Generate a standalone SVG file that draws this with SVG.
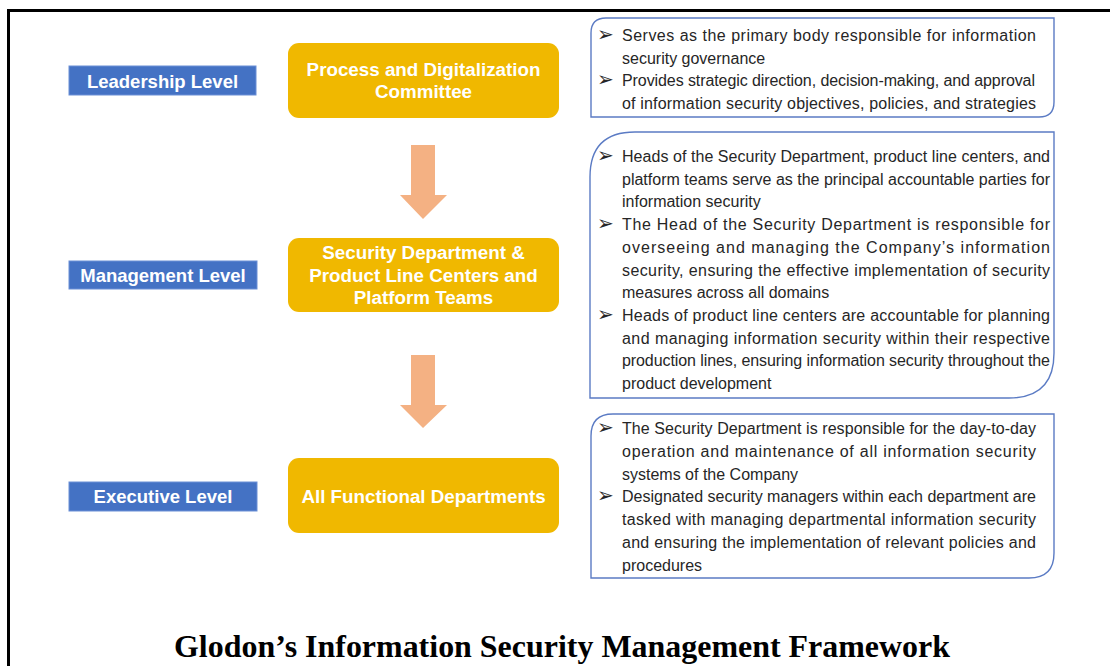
<svg xmlns="http://www.w3.org/2000/svg" width="1110" height="666" viewBox="0 0 1110 666">
<defs>
<style>
.lvl{fill:#4472C4;stroke:#6A8FD6;stroke-width:1}
.lvlt{font-family:"Liberation Sans",Arial,sans-serif;font-weight:bold;font-size:18.5px;fill:#fff;text-anchor:middle}
.org{fill:#F0B800}
.orgt{font-family:"Liberation Sans",Arial,sans-serif;font-weight:bold;font-size:18.8px;fill:#fff;text-anchor:middle}
.desc{fill:#fff;stroke:#5B7BC4;stroke-width:1.4}
.tx{font-family:"Liberation Sans",Arial,sans-serif;font-size:16px;fill:#262626}
.bul{font-family:"DejaVu Sans",sans-serif;font-size:20px;fill:#262626}
.arr{fill:#F4B183}
</style>
</defs>
<rect width="1110" height="666" fill="#fff"/>
<path d="M8.5 666 V10.5 H1110" fill="none" stroke="#000" stroke-width="3"/>

<g id="connectors">
<polygon class="arr" points="411,145 435,145 435,195 447,195 423,219 400,195 411,195"/>
<polygon class="arr" points="411,355 435,355 435,405 447,405 423,428 400,405 411,405"/>
</g>

<g id="leadership-level">
<rect class="lvl" x="69" y="66" width="187" height="29"/>
<text class="lvlt" x="162.5" y="88">Leadership Level</text>
</g>
<g id="management-level">
<rect class="lvl" x="69" y="261" width="188" height="28"/>
<text class="lvlt" x="163" y="282">Management Level</text>
</g>
<g id="executive-level">
<rect class="lvl" x="69" y="482" width="188" height="29"/>
<text class="lvlt" x="163" y="503">Executive Level</text>
</g>

<g id="committee">
<rect class="org" x="288" y="43" width="271" height="75" rx="11"/>
<text class="orgt" x="423.5" y="76">Process and Digitalization</text>
<text class="orgt" x="423.5" y="98">Committee</text>
</g>
<g id="security-dept">
<rect class="org" x="288" y="238" width="271" height="74" rx="11"/>
<text class="orgt" x="423.5" y="259">Security Department &amp;</text>
<text class="orgt" x="423.5" y="281.5">Product Line Centers and</text>
<text class="orgt" x="423.5" y="304">Platform Teams</text>
</g>
<g id="functional-depts">
<rect class="org" x="288" y="458" width="271" height="75" rx="11"/>
<text class="orgt" x="423.5" y="503">All Functional Departments</text>
</g>

<g id="desc-leadership">
<path class="desc" d="M606 18 H1054 V102 Q1054 117 1039 117 H591 V33 Q591 18 606 18 Z"/>
<text class="bul" x="597" y="41">➢</text>
<text class="tx" x="622" y="41" textLength="414" lengthAdjust="spacing">Serves as the primary body responsible for information</text>
<text class="tx" x="622" y="63.5">security governance</text>
<text class="bul" x="597" y="86">➢</text>
<text class="tx" x="622" y="86" textLength="413" lengthAdjust="spacing">Provides strategic direction, decision-making, and approval</text>
<text class="tx" x="622" y="108.5" textLength="414" lengthAdjust="spacing">of information security objectives, policies, and strategies</text>
</g>

<g id="desc-management">
<path class="desc" d="M635 132 H1054 V353 Q1054 398 1009 398 H590 V177 Q590 132 635 132 Z"/>
<text class="bul" x="597" y="162">➢</text>
<text class="tx" x="622" y="162" textLength="428" lengthAdjust="spacing">Heads of the Security Department, product line centers, and</text>
<text class="tx" x="622" y="184.7" textLength="428" lengthAdjust="spacing">platform teams serve as the principal accountable parties for</text>
<text class="tx" x="622" y="207.4">information security</text>
<text class="bul" x="597" y="230">➢</text>
<text class="tx" x="622" y="230.1" textLength="428" lengthAdjust="spacing">The Head of the Security Department is responsible for</text>
<text class="tx" x="622" y="252.8" textLength="428" lengthAdjust="spacing">overseeing and managing the Company’s information</text>
<text class="tx" x="622" y="275.5" textLength="428" lengthAdjust="spacing">security, ensuring the effective implementation of security</text>
<text class="tx" x="622" y="298.2">measures across all domains</text>
<text class="bul" x="597" y="321">➢</text>
<text class="tx" x="622" y="320.9" textLength="428" lengthAdjust="spacing">Heads of product line centers are accountable for planning</text>
<text class="tx" x="622" y="343.6" textLength="428" lengthAdjust="spacing">and managing information security within their respective</text>
<text class="tx" x="622" y="366.3" textLength="428" lengthAdjust="spacing">production lines, ensuring information security throughout the</text>
<text class="tx" x="622" y="389">product development</text>
</g>

<g id="desc-executive">
<path class="desc" d="M613 414 H1054 V553 Q1054 578 1029 578 H591 V436 Q591 414 613 414 Z"/>
<text class="bul" x="597" y="434">➢</text>
<text class="tx" x="622" y="434" textLength="414" lengthAdjust="spacing">The Security Department is responsible for the day-to-day</text>
<text class="tx" x="622" y="456.8" textLength="414" lengthAdjust="spacing">operation and maintenance of all information security</text>
<text class="tx" x="622" y="479.6">systems of the Company</text>
<text class="bul" x="597" y="502">➢</text>
<text class="tx" x="622" y="502.4" textLength="414" lengthAdjust="spacing">Designated security managers within each department are</text>
<text class="tx" x="622" y="525.2" textLength="414" lengthAdjust="spacing">tasked with managing departmental information security</text>
<text class="tx" x="622" y="548" textLength="414" lengthAdjust="spacing">and ensuring the implementation of relevant policies and</text>
<text class="tx" x="622" y="570.8">procedures</text>
</g>

<text id="title" x="562" y="657" text-anchor="middle" textLength="776" lengthAdjust="spacingAndGlyphs" style="font-family:'Liberation Serif','Times New Roman',serif;font-weight:bold;font-size:32px;fill:#000">Glodon’s Information Security Management Framework</text>
</svg>
